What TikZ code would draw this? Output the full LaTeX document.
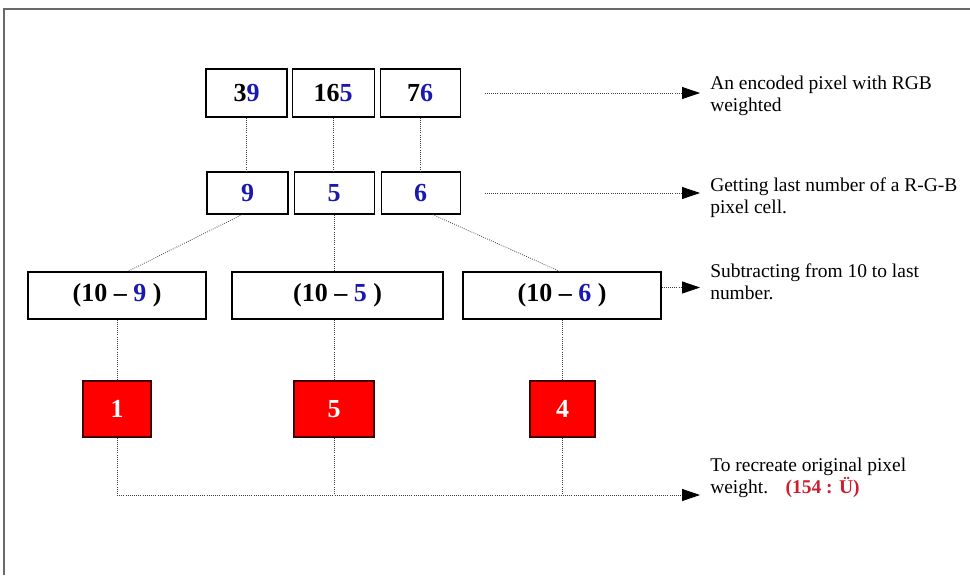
\documentclass[tikz,border=0pt]{standalone}
\usepackage{fontspec}
\setmainfont{Liberation Serif}
\usetikzlibrary{arrows.meta,positioning}
\definecolor{digitblue}{RGB}{25,25,175}
\definecolor{cellred}{RGB}{255,0,0}
\definecolor{resultred}{RGB}{205,30,45}
\definecolor{framegray}{RGB}{105,105,105}

\begin{document}
\begin{tikzpicture}[x=0.75pt,y=-0.75pt,
    cell/.style={draw,line width=0.8pt,inner sep=0pt,minimum height=36pt,
      font=\fontsize{19.5}{20}\selectfont\bfseries},
    result/.style={cell,fill=cellred,draw=black!75!red,text=white,minimum height=42pt},
    note/.style={anchor=west,inner xsep=7.5pt,inner ysep=0pt,align=left,
      font=\fontsize{14.6}{16.5}\selectfont},
    link/.style={densely dotted,line width=0.6pt,black!75},
    pointer/.style={-{Triangle[length=13.5pt,width=9pt,black]}}]
    \useasboundingbox (0,0) rectangle (970,575);
    \draw[framegray,line width=1.5pt] (4,575) -- (4,9) -- (970,9);

    \node[cell,minimum width=60.75pt] (a1) at (246.5,93) {3\textcolor{digitblue}{9}};
    \node[cell,minimum width=61.5pt] (b1) [right=3pt of a1] {16\textcolor{digitblue}{5}};
    \node[cell,minimum width=60pt] (c1) [right=3.75pt of b1] {7\textcolor{digitblue}{6}};
    \node[cell,minimum width=60.75pt,minimum height=31.5pt] (a2) at (247.5,193) {\textcolor{digitblue}{9}};
    \node[cell,minimum width=60pt,minimum height=31.5pt] (b2) [right=3.75pt of a2] {\textcolor{digitblue}{5}};
    \node[cell,minimum width=59.25pt,minimum height=31.5pt] (c2) [right=4.5pt of b2] {\textcolor{digitblue}{6}};
    \node[cell,minimum width=133.5pt,minimum height=35.25pt] (d1) at (117,295.5) {(10 -- \textcolor{digitblue}{9} )};
    \node[cell,minimum width=158.25pt,minimum height=35.25pt] (d2) at (337.5,295.5) {(10 -- \textcolor{digitblue}{5} )};
    \node[cell,minimum width=148.5pt,minimum height=35.25pt] (d3) at (562,295.5) {(10 -- \textcolor{digitblue}{6} )};
    \node[result,minimum width=51pt] (r1) at (117,409) {1};
    \node[result,minimum width=60pt] (r2) at (334,409) {5};
    \node[result,minimum width=48.75pt] (r3) at (562.5,409) {4};

    \node[note] (n1) at (700,96) {An encoded pixel with RGB\\weighted};
    \node[note] (n2) at (700,198) {Getting last number of a R-G-B\\pixel cell.};
    \node[note] (n3) at (700,282) {Subtracting from 10 to last\\number.};
    \node[note] (n4) at (700,478) {To recreate original pixel\\weight.\hspace{0.9em}\textcolor{resultred}{\bfseries(154 : Ü)}};
    \coordinate (sum) at (700,495);

    \draw[link] (a1.south) -- (a1.south |- a2.north);
    \draw[link] (b1.south) -- (b1.south |- b2.north);
    \draw[link] (c1.south) -- (c1.south |- c2.north);
    \draw[link] ([xshift=-4pt]a2.south) -- ([xshift=8pt]d1.north);
    \draw[link] (b2.south) -- (b2.south |- d2.north);
    \draw[link] ([xshift=9pt]c2.south) -- ([xshift=-1.5pt]d3.north);
    \draw[link] (d1.south) -- (r1.north);
    \draw[link] (r2.north |- d2.south) -- (r2.north);
    \draw[link] (d3.south) -- (d3.south |- r3.north);
    \draw[link] (r1.south) -- (r1.south |- sum);
    \draw[link] (r2.south) -- (r2.south |- sum);
    \draw[link] (r3.south) -- (r3.south |- sum);
    \draw[link,pointer] (r1.south |- sum) -- (sum);
    \draw[link,pointer] ([xshift=18pt]c1.east) -- (c1.east -| n1.west);
    \draw[link,pointer] ([xshift=18pt]c2.east) -- (c2.east -| n2.west);
    \draw[link,pointer] ([yshift=6pt]d3.east) -- ([yshift=6pt]d3.east -| n3.west);
  \end{tikzpicture}
\end{document}
